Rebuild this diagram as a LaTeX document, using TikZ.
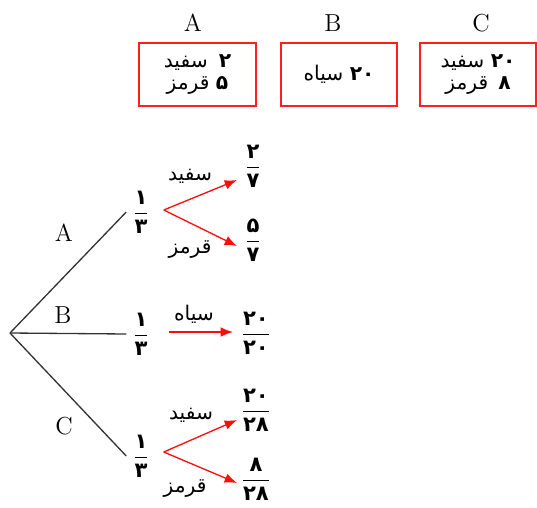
\documentclass[tikz,border=0pt]{standalone}
\usepackage{amsmath}
\usepackage{xcolor}
\usepackage{fontspec}
\usetikzlibrary{arrows.meta,calc}
\TeXXeTstate=1
\newfontfamily\arabicfont[Script=Arabic]{DejaVu Sans}
\definecolor{color_boite}{rgb}{1,0.12,0.12}
\definecolor{color_fleche}{rgb}{1,0.05,0.05}
\definecolor{color_arbre}{rgb}{0.2,0.2,0.2}
% fraction en chiffres persans
\newcommand{\frcb}[2]{{\arabicfont\bfseries\fontsize{12}{14}\selectfont$\genfrac{}{}{0.9pt}{0}{\hbox{#1}}{\hbox{#2}}$}}

\begin{document}
\begin{tikzpicture}[x=0.02cm,y=-0.02cm,
	titre/.style={font=\fontsize{14}{16}\selectfont},
	boite/.style={minimum width=2.32cm,minimum height=1.24cm,
		align=center,inner sep=0pt,font=\arabicfont\fontsize{11.5}{13}\selectfont},
	cadre/.style={draw=color_boite,line width=1.1pt},
	etiq/.style={font=\arabicfont\fontsize{11.5}{13}\selectfont,inner sep=1pt},
	branche/.style={color_arbre,line width=0.75pt},
	fleche/.style={color_fleche,line width=0.75pt,-{Latex[length=7pt,width=5.5pt]}}]
	\useasboundingbox (0,0) rectangle (537,507);
	
	% Titres et boites
	\node[titre] (hA) at (193,23) {A};
	\node[titre] (hB) at (333,23) {B};
	\node[titre] (hC) at (481,23) {C};
	\node[boite] (bA) at (197.5,74.5) {\beginR\textbf{۲}\hspace{0.55em}سفید\endR\\\beginR\textbf{۵} قرمز\endR};
	\node[boite] (bB) at (339,74.5) {\beginR\beginL\textbf{۲۰}\endL{} سیاه\endR};
	\node[boite] (bC) at (478,74.5) {\beginR\beginL\textbf{۲۰}\endL{} سفید\endR\\\beginR\textbf{۸}\hspace{0.5em}قرمز\endR};
	\draw[cadre] (bA.north west) rectangle (bA.south east);
	\draw[cadre] (bB.north west) rectangle (bB.south east);
	\draw[cadre] (bC.north west) rectangle (bC.south east);
	
	% Arbre
	\coordinate (racine) at (10,333);
	\node (tA) at (141,212) {\frcb{۱}{۳}};
	\node (tB) at (141,334) {\frcb{۱}{۳}};
	\node (tC) at (141,456) {\frcb{۱}{۳}};
	\draw[branche] (racine) -- (tA.west);
	\draw[branche] (racine) -- (tB.west);
	\draw[branche] (racine) -- (tC.west);
	\node[titre] (lA) at (64,233) {A};
	\node[titre] (lB) at (63,315) {B};
	\node[titre] (lC) at (64,426) {C};
	
	% Probabilites finales
	\node (fA1) at (253,166) {\frcb{۲}{۷}};
	\node (fA2) at (253,240) {\frcb{۵}{۷}};
	\node (fB) at (256,333) {\frcb{\beginL۲۰\endL}{\beginL۲۰\endL}};
	\node (fC1) at (256,410) {\frcb{\beginL۲۰\endL}{\beginL۲۸\endL}};
	\node (fC2) at (256,479) {\frcb{۸}{\beginL۲۸\endL}};
	
	% Fleches rouges
	\coordinate (dA) at ($(tA.east)+(8,-2)$);
	\coordinate (dB) at ($(tB.east)+(13,-2)$);
	\coordinate (dC) at ($(tC.east)+(8,-4)$);
	\draw[fleche] (dA) -- ($(fA1.center)+(-16,14)$);
	\draw[fleche] (dA) -- ($(fA2.center)+(-16,6)$);
	\draw[fleche] (dB) -- ($(fB.center)+(-23,-1)$);
	\draw[fleche] (dC) -- ($(fC1.center)+(-19,10)$);
	\draw[fleche] (dC) -- ($(fC2.center)+(-19,4)$);
	\node[etiq] (sA1) at (190,176) {\beginR سفید\endR};
	\node[etiq] (sA2) at (190,250) {\beginR قرمز\endR};
	\node[etiq] (sB) at (194,314) {\beginR سیاه\endR};
	\node[etiq] (sC1) at (191,415) {\beginR سفید\endR};
	\node[etiq] (sC2) at (185,489) {\beginR قرمز\endR};
\end{tikzpicture}
\end{document}
